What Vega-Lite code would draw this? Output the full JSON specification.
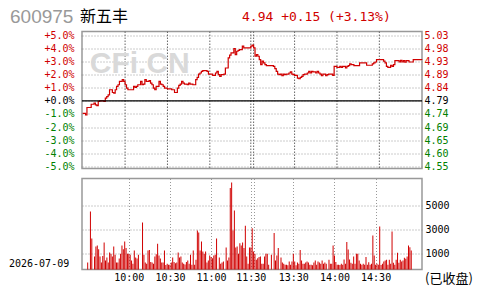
{
  "$schema": "https://vega.github.io/schema/vega-lite/v6.json",
  "background": "white",
  "padding": {"left": 7, "top": 6.5, "right": 0, "bottom": 0},
  "spacing": 5,
  "config": {
    "view": {"stroke": "#999999", "strokeWidth": 1.5},
    "axis": {
      "labelFont": "DejaVu Sans Mono",
      "labelFontSize": 10,
      "titleFontWeight": "normal",
      "gridColor": "#999999",
      "gridDash": [1, 2],
      "gridWidth": 1,
      "gridOpacity": 1,
      "domain": false,
      "ticks": false
    }
  },
  "datasets": {
    "price": [
      {"m": 0, "p": -0.95}, {"m": 2, "p": -1.08}, {"m": 3, "p": -0.51}, {"m": 5, "p": -0.51}, {"m": 6, "p": -0.26}, {"m": 8, "p": -0.18}, {"m": 9, "p": -0.31}, {"m": 10, "p": -0.36}, {"m": 11, "p": -0.05}, {"m": 12, "p": 0.0}, {"m": 15, "p": -0.05}, {"m": 16, "p": 0.21}, {"m": 17, "p": 0.33}, {"m": 18, "p": 0.46}, {"m": 19, "p": 0.85}, {"m": 21, "p": 0.64}, {"m": 22, "p": 0.59}, {"m": 23, "p": 0.85}, {"m": 24, "p": 1.10}, {"m": 25, "p": 1.23}, {"m": 26, "p": 1.49}, {"m": 28, "p": 1.62}, {"m": 29, "p": 1.49}, {"m": 30, "p": 1.23}, {"m": 31, "p": 0.97}, {"m": 32, "p": 0.85}, {"m": 35, "p": 0.85}, {"m": 36, "p": 1.10}, {"m": 37, "p": 1.03}, {"m": 38, "p": 1.10}, {"m": 39, "p": 1.23}, {"m": 41, "p": 1.49}, {"m": 42, "p": 1.23}, {"m": 43, "p": 1.28}, {"m": 44, "p": 1.62}, {"m": 45, "p": 1.49}, {"m": 47, "p": 1.54}, {"m": 48, "p": 1.36}, {"m": 49, "p": 1.23}, {"m": 50, "p": 0.97}, {"m": 51, "p": 0.85}, {"m": 52, "p": 1.10}, {"m": 54, "p": 1.49}, {"m": 55, "p": 1.28}, {"m": 56, "p": 1.23}, {"m": 57, "p": 1.10}, {"m": 58, "p": 0.97}, {"m": 60, "p": 0.92}, {"m": 63, "p": 0.85}, {"m": 65, "p": 0.64}, {"m": 67, "p": 0.97}, {"m": 68, "p": 1.18}, {"m": 69, "p": 1.28}, {"m": 70, "p": 1.49}, {"m": 71, "p": 1.36}, {"m": 72, "p": 1.28}, {"m": 74, "p": 1.23}, {"m": 75, "p": 1.36}, {"m": 76, "p": 1.28}, {"m": 78, "p": 1.23}, {"m": 80, "p": 1.62}, {"m": 81, "p": 1.79}, {"m": 82, "p": 2.05}, {"m": 83, "p": 2.13}, {"m": 84, "p": 2.26}, {"m": 85, "p": 2.31}, {"m": 88, "p": 2.26}, {"m": 89, "p": 2.05}, {"m": 92, "p": 1.95}, {"m": 94, "p": 2.13}, {"m": 95, "p": 2.26}, {"m": 96, "p": 2.00}, {"m": 97, "p": 1.87}, {"m": 98, "p": 2.00}, {"m": 100, "p": 2.05}, {"m": 101, "p": 2.51}, {"m": 103, "p": 3.28}, {"m": 104, "p": 3.49}, {"m": 105, "p": 3.67}, {"m": 107, "p": 4.00}, {"m": 108, "p": 3.54}, {"m": 109, "p": 3.79}, {"m": 110, "p": 3.85}, {"m": 111, "p": 3.92}, {"m": 113, "p": 4.18}, {"m": 114, "p": 4.05}, {"m": 119, "p": 4.18}, {"m": 120, "p": 4.26},
      {"m": 121, "p": 4.05}, {"m": 122, "p": 3.41}, {"m": 123, "p": 3.54}, {"m": 124, "p": 3.41}, {"m": 125, "p": 3.15}, {"m": 126, "p": 2.77}, {"m": 127, "p": 3.03}, {"m": 128, "p": 2.90}, {"m": 129, "p": 2.77}, {"m": 130, "p": 2.69}, {"m": 135, "p": 2.64}, {"m": 136, "p": 2.46}, {"m": 137, "p": 2.26}, {"m": 138, "p": 2.05}, {"m": 139, "p": 2.00}, {"m": 140, "p": 2.05}, {"m": 141, "p": 1.92}, {"m": 142, "p": 2.05}, {"m": 143, "p": 2.00}, {"m": 144, "p": 2.05}, {"m": 146, "p": 2.13}, {"m": 147, "p": 2.21}, {"m": 148, "p": 2.05}, {"m": 149, "p": 2.00}, {"m": 150, "p": 1.95}, {"m": 152, "p": 1.74}, {"m": 153, "p": 1.69}, {"m": 154, "p": 1.79}, {"m": 155, "p": 1.87}, {"m": 156, "p": 2.00}, {"m": 157, "p": 2.05}, {"m": 159, "p": 2.13}, {"m": 160, "p": 2.26}, {"m": 161, "p": 2.13}, {"m": 162, "p": 2.26}, {"m": 163, "p": 2.21}, {"m": 165, "p": 2.13}, {"m": 166, "p": 2.26}, {"m": 167, "p": 2.13}, {"m": 168, "p": 2.05}, {"m": 169, "p": 1.92}, {"m": 170, "p": 2.05}, {"m": 172, "p": 1.92}, {"m": 173, "p": 2.00}, {"m": 174, "p": 2.05}, {"m": 177, "p": 1.95}, {"m": 178, "p": 2.64}, {"m": 180, "p": 2.56}, {"m": 182, "p": 2.64}, {"m": 183, "p": 2.56}, {"m": 184, "p": 2.64}, {"m": 186, "p": 2.51}, {"m": 187, "p": 2.64}, {"m": 188, "p": 2.69}, {"m": 189, "p": 2.82}, {"m": 190, "p": 2.77}, {"m": 192, "p": 2.69}, {"m": 196, "p": 2.90}, {"m": 201, "p": 2.72}, {"m": 205, "p": 2.82}, {"m": 206, "p": 2.90}, {"m": 207, "p": 2.97}, {"m": 208, "p": 3.15}, {"m": 213, "p": 3.03}, {"m": 214, "p": 2.90}, {"m": 215, "p": 2.64}, {"m": 216, "p": 2.56}, {"m": 218, "p": 2.72}, {"m": 219, "p": 2.64}, {"m": 220, "p": 2.77}, {"m": 221, "p": 3.08}, {"m": 224, "p": 2.97}, {"m": 225, "p": 3.10}, {"m": 226, "p": 2.97}, {"m": 227, "p": 3.08}, {"m": 228, "p": 2.95}, {"m": 229, "p": 3.08}, {"m": 231, "p": 2.97}, {"m": 234, "p": 3.15}, {"m": 240, "p": 3.13}
    ],
    "vol": [
      {"m": 0, "v": 250}, {"m": 2, "v": 4500}, {"m": 3, "v": 2250}, {"m": 5, "v": 750}, {"m": 6, "v": 1580}, {"m": 7, "v": 1670}, {"m": 8, "v": 1360}, {"m": 9, "v": 750}, {"m": 10, "v": 250}, {"m": 11, "v": 800}, {"m": 12, "v": 1920}, {"m": 13, "v": 420}, {"m": 14, "v": 670}, {"m": 15, "v": 250}, {"m": 16, "v": 1080}, {"m": 17, "v": 970}, {"m": 18, "v": 750}, {"m": 19, "v": 1580}, {"m": 20, "v": 890}, {"m": 21, "v": 250}, {"m": 22, "v": 250}, {"m": 23, "v": 580}, {"m": 24, "v": 970}, {"m": 25, "v": 1670}, {"m": 26, "v": 1360}, {"m": 27, "v": 2000}, {"m": 28, "v": 1450}, {"m": 29, "v": 970}, {"m": 30, "v": 970}, {"m": 31, "v": 890}, {"m": 32, "v": 420}, {"m": 33, "v": 140}, {"m": 34, "v": 1250}, {"m": 35, "v": 670}, {"m": 36, "v": 580}, {"m": 37, "v": 890}, {"m": 40, "v": 3590}, {"m": 41, "v": 890}, {"m": 42, "v": 250}, {"m": 43, "v": 140}, {"m": 44, "v": 1250}, {"m": 45, "v": 1300}, {"m": 46, "v": 300}, {"m": 47, "v": 250}, {"m": 48, "v": 140}, {"m": 49, "v": 750}, {"m": 50, "v": 940}, {"m": 51, "v": 1810}, {"m": 52, "v": 830}, {"m": 53, "v": 580}, {"m": 54, "v": 250}, {"m": 55, "v": 250}, {"m": 56, "v": 1250}, {"m": 57, "v": 50}, {"m": 58, "v": 140}, {"m": 59, "v": 60},
      {"m": 60, "v": 60}, {"m": 61, "v": 250}, {"m": 62, "v": 670}, {"m": 63, "v": 300}, {"m": 64, "v": 190}, {"m": 65, "v": 250}, {"m": 66, "v": 1080}, {"m": 67, "v": 670}, {"m": 68, "v": 750}, {"m": 69, "v": 250}, {"m": 70, "v": 140}, {"m": 71, "v": 80}, {"m": 72, "v": 300}, {"m": 73, "v": 420}, {"m": 74, "v": 140}, {"m": 75, "v": 890}, {"m": 76, "v": 60}, {"m": 77, "v": 1250}, {"m": 78, "v": 60}, {"m": 79, "v": 470}, {"m": 80, "v": 2920}, {"m": 81, "v": 2750}, {"m": 82, "v": 1250}, {"m": 83, "v": 2000}, {"m": 84, "v": 1170}, {"m": 85, "v": 970}, {"m": 86, "v": 1170}, {"m": 87, "v": 250}, {"m": 88, "v": 420}, {"m": 89, "v": 830}, {"m": 90, "v": 700}, {"m": 91, "v": 610}, {"m": 92, "v": 830}, {"m": 93, "v": 890}, {"m": 94, "v": 2250}, {"m": 96, "v": 670}, {"m": 97, "v": 140}, {"m": 98, "v": 250}, {"m": 99, "v": 330}, {"m": 101, "v": 1500}, {"m": 102, "v": 420}, {"m": 103, "v": 670}, {"m": 104, "v": 6450}, {"m": 105, "v": 6920}, {"m": 106, "v": 2920}, {"m": 107, "v": 4590}, {"m": 108, "v": 1500}, {"m": 109, "v": 1580}, {"m": 110, "v": 970}, {"m": 111, "v": 1860}, {"m": 112, "v": 1670}, {"m": 113, "v": 1920}, {"m": 114, "v": 1450}, {"m": 115, "v": 3310}, {"m": 116, "v": 750}, {"m": 117, "v": 140}, {"m": 118, "v": 1500}, {"m": 119, "v": 1500},
      {"m": 120, "v": 3110}, {"m": 121, "v": 1170}, {"m": 122, "v": 970}, {"m": 123, "v": 470}, {"m": 124, "v": 610}, {"m": 125, "v": 700}, {"m": 126, "v": 750}, {"m": 127, "v": 140}, {"m": 128, "v": 140}, {"m": 129, "v": 750}, {"m": 130, "v": 970}, {"m": 131, "v": 970}, {"m": 132, "v": 60}, {"m": 134, "v": 890}, {"m": 136, "v": 2700}, {"m": 137, "v": 420}, {"m": 138, "v": 830}, {"m": 139, "v": 1450}, {"m": 141, "v": 670}, {"m": 142, "v": 250}, {"m": 143, "v": 140}, {"m": 144, "v": 60}, {"m": 145, "v": 60}, {"m": 146, "v": 30}, {"m": 147, "v": 330}, {"m": 148, "v": 60}, {"m": 149, "v": 330}, {"m": 150, "v": 970}, {"m": 151, "v": 330}, {"m": 152, "v": 30}, {"m": 153, "v": 250}, {"m": 154, "v": 140}, {"m": 155, "v": 1300}, {"m": 156, "v": 420}, {"m": 157, "v": 140}, {"m": 158, "v": 140}, {"m": 159, "v": 250}, {"m": 160, "v": 330}, {"m": 161, "v": 250}, {"m": 162, "v": 60}, {"m": 163, "v": 60}, {"m": 164, "v": 30}, {"m": 165, "v": 250}, {"m": 166, "v": 420}, {"m": 167, "v": 60}, {"m": 168, "v": 330}, {"m": 169, "v": 250}, {"m": 170, "v": 140}, {"m": 171, "v": 420}, {"m": 172, "v": 140}, {"m": 173, "v": 250}, {"m": 174, "v": 140}, {"m": 176, "v": 470}, {"m": 177, "v": 140}, {"m": 178, "v": 140}, {"m": 179, "v": 1670}, {"m": 180, "v": 830}, {"m": 181, "v": 300}, {"m": 182, "v": 55},
      {"m": 183, "v": 55}, {"m": 184, "v": 50}, {"m": 185, "v": 140}, {"m": 186, "v": 55}, {"m": 187, "v": 500}, {"m": 188, "v": 140}, {"m": 189, "v": 1950}, {"m": 190, "v": 1330}, {"m": 191, "v": 500}, {"m": 192, "v": 220}, {"m": 193, "v": 140}, {"m": 194, "v": 750}, {"m": 195, "v": 140}, {"m": 196, "v": 970}, {"m": 197, "v": 970}, {"m": 198, "v": 420}, {"m": 199, "v": 140}, {"m": 200, "v": 55}, {"m": 201, "v": 140}, {"m": 202, "v": 55}, {"m": 203, "v": 700}, {"m": 204, "v": 55}, {"m": 205, "v": 280}, {"m": 206, "v": 55}, {"m": 207, "v": 140}, {"m": 208, "v": 2500}, {"m": 209, "v": 830}, {"m": 210, "v": 55}, {"m": 211, "v": 140}, {"m": 212, "v": 55}, {"m": 213, "v": 3250}, {"m": 214, "v": 50}, {"m": 215, "v": 140}, {"m": 216, "v": 330}, {"m": 217, "v": 420}, {"m": 218, "v": 470}, {"m": 219, "v": 55}, {"m": 220, "v": 470}, {"m": 221, "v": 140}, {"m": 222, "v": 2830}, {"m": 223, "v": 220}, {"m": 224, "v": 55}, {"m": 225, "v": 470}, {"m": 226, "v": 1060}, {"m": 227, "v": 220}, {"m": 228, "v": 470}, {"m": 229, "v": 330}, {"m": 230, "v": 420}, {"m": 231, "v": 640}, {"m": 232, "v": 560}, {"m": 233, "v": 750}, {"m": 234, "v": 1670}, {"m": 235, "v": 1530}, {"m": 236, "v": 1250}
    ],
    "timegrid": [
      {"g": 30}, {"g": 60}, {"g": 90}, {"g": 119}, {"g": 121}, {"g": 150}, {"g": 180}, {"g": 210}
    ]
  },
  "vconcat": [
    {
      "width": 340,
      "height": 137,
      "layer": [
        {
          "data": {"name": "timegrid"},
          "mark": {"type": "rule", "color": "#666666", "strokeWidth": 1, "strokeDash": [1.5, 1.5]},
          "encoding": {
            "x": {
              "field": "g", "type": "quantitative",
              "scale": {"domain": [-0.5, 240.2], "nice": false, "zero": false},
              "axis": {
                "orient": "top", "values": [30, 60, 90, 119, 121, 150, 180, 210],
                "labelColor": "transparent", "labelFontSize": 1, "labelPadding": 0, "grid": false,
                "title": "新五丰", "titleFont": "Noto Sans CJK SC", "titleFontSize": 16, "titleColor": "#000000",
                "titleAngle": 0, "titleX": -2.5, "titleY": -15.5, "titleAlign": "left", "titleBaseline": "middle"
              }
            },
            "y": {"datum": 5.3, "type": "quantitative", "axis": null},
            "y2": {"datum": -5.17}
          }
        },
        {
          "data": {"name": "price"},
          "mark": {"type": "line", "color": "#d00000", "strokeWidth": 1.2, "interpolate": "step-after"},
          "encoding": {
            "x": {
              "field": "m", "type": "quantitative",
              "axis": {
                "orient": "top", "values": [30, 60, 90, 119, 121, 150, 180, 210],
                "labelColor": "transparent", "labelFontSize": 1, "labelPadding": 0, "grid": false,
                "title": "新五丰", "titleFont": "Noto Sans CJK SC", "titleFontSize": 16, "titleColor": "#000000",
                "titleAngle": 0, "titleX": -2.5, "titleY": -15.5, "titleAlign": "left", "titleBaseline": "middle"
              }
            },
            "y": {
              "field": "p", "type": "quantitative",
              "scale": {"domain": [-5.17, 5.3], "nice": false, "zero": false},
              "axis": {
                "orient": "left", "values": [-5, -4, -3, -2, -1, 0, 1, 2, 3, 4, 5],
                "grid": true, "ticks": true, "tickDash": [1, 2], "tickColor": "#999999", "tickSize": 3,
                "labelPadding": 5,
                "labelExpr": "(datum.value < 0 ? '-' : '+') + format(abs(datum.value), '.1f') + '%'",
                "labelColor": {"expr": "datum.value > 0 ? '#d00000' : (datum.value < 0 ? '#008000' : '#000000')"},
                "title": "600975", "titleFont": "Liberation Sans", "titleFontSize": 19, "titleColor": "#999999",
                "titleAngle": 0, "titleX": -72.5, "titleY": -15, "titleAlign": "left", "titleBaseline": "middle"
              }
            }
          }
        },
        {
          "data": {"values": [{"w": "CFi.CN"}]},
          "mark": {"type": "text", "font": "Liberation Sans", "fontWeight": "bold", "fontSize": 30, "color": "#d9d9d9", "align": "center", "baseline": "middle"},
          "encoding": {
            "x": {
              "datum": 40.4, "type": "quantitative",
              "axis": {
                "orient": "top", "values": [30, 60, 90, 119, 121, 150, 180, 210],
                "labelColor": "transparent", "labelFontSize": 1, "labelPadding": 0, "grid": false,
                "title": "新五丰", "titleFont": "Noto Sans CJK SC", "titleFontSize": 16, "titleColor": "#000000",
                "titleAngle": 0, "titleX": -2.5, "titleY": -15.5, "titleAlign": "left", "titleBaseline": "middle"
              }
            },
            "y": {"datum": 2.78, "type": "quantitative", "axis": null},
            "text": {"field": "w"}
          }
        },
        {
          "data": {"values": [{}]},
          "mark": {"type": "rule", "color": "#000000", "strokeWidth": 1.3},
          "encoding": {
            "y": {
              "datum": 0, "type": "quantitative",
              "axis": {
                "orient": "right", "values": [-5, -4, -3, -2, -1, 0, 1, 2, 3, 4, 5],
                "grid": false, "labelPadding": 2,
                "labelExpr": "['4.55','4.60','4.65','4.69','4.74','4.79','4.84','4.89','4.93','4.98','5.03'][datum.value + 5]",
                "labelColor": {"expr": "datum.value > 0 ? '#d00000' : (datum.value < 0 ? '#008000' : '#000000')"},
                "title": "4.94 +0.15 (+3.13%)", "titleFont": "DejaVu Sans Mono", "titleFontSize": 13, "titleColor": "#d00000",
                "titleAngle": 0, "titleX": -180.5, "titleY": -15.5, "titleAlign": "left", "titleBaseline": "middle"
              }
            }
          }
        }
      ],
      "resolve": {"axis": {"y": "independent"}}
    },
    {
      "width": 340,
      "height": 91,
      "data": {"name": "vol"},
      "mark": {"type": "bar", "color": "#d00000", "width": 1},
      "encoding": {
        "x": {
          "field": "m", "type": "quantitative",
          "scale": {"domain": [-0.5, 240.2], "nice": false, "zero": false},
          "axis": {
            "orient": "bottom", "values": [30, 60, 90, 119, 121, 150, 180, 210],
            "grid": true, "labelOverlap": false, "labelPadding": 3, "labelColor": "#000000", "labelFlush": false,
            "labelExpr": "datum.value == 30 ? '10:00' : datum.value == 60 ? '10:30' : datum.value == 90 ? '11:00' : datum.value == 119 ? '11:30' : datum.value == 150 ? '13:30' : datum.value == 180 ? '14:00' : datum.value == 210 ? '14:30' : ''",
            "title": "2026-07-09", "titleFont": "DejaVu Sans Mono", "titleFontSize": 10, "titleColor": "#000000",
            "titleAngle": 0, "titleX": -73.5, "titleY": -6, "titleAlign": "left", "titleBaseline": "middle"
          }
        },
        "y": {
          "field": "v", "type": "quantitative",
          "scale": {"domain": [-333, 7250], "nice": false, "zero": false},
          "axis": {
            "orient": "right", "values": [1000, 3000, 5000], "format": "d",
            "grid": true, "labelPadding": 3, "labelColor": "#000000",
            "title": "(已收盘)", "titleFont": "Noto Sans CJK SC", "titleFontSize": 13, "titleColor": "#000000",
            "titleAngle": 0, "titleX": 2.5, "titleY": 99.5, "titleAlign": "left", "titleBaseline": "middle"
          }
        },
        "y2": {"datum": -333}
      }
    }
  ]
}
